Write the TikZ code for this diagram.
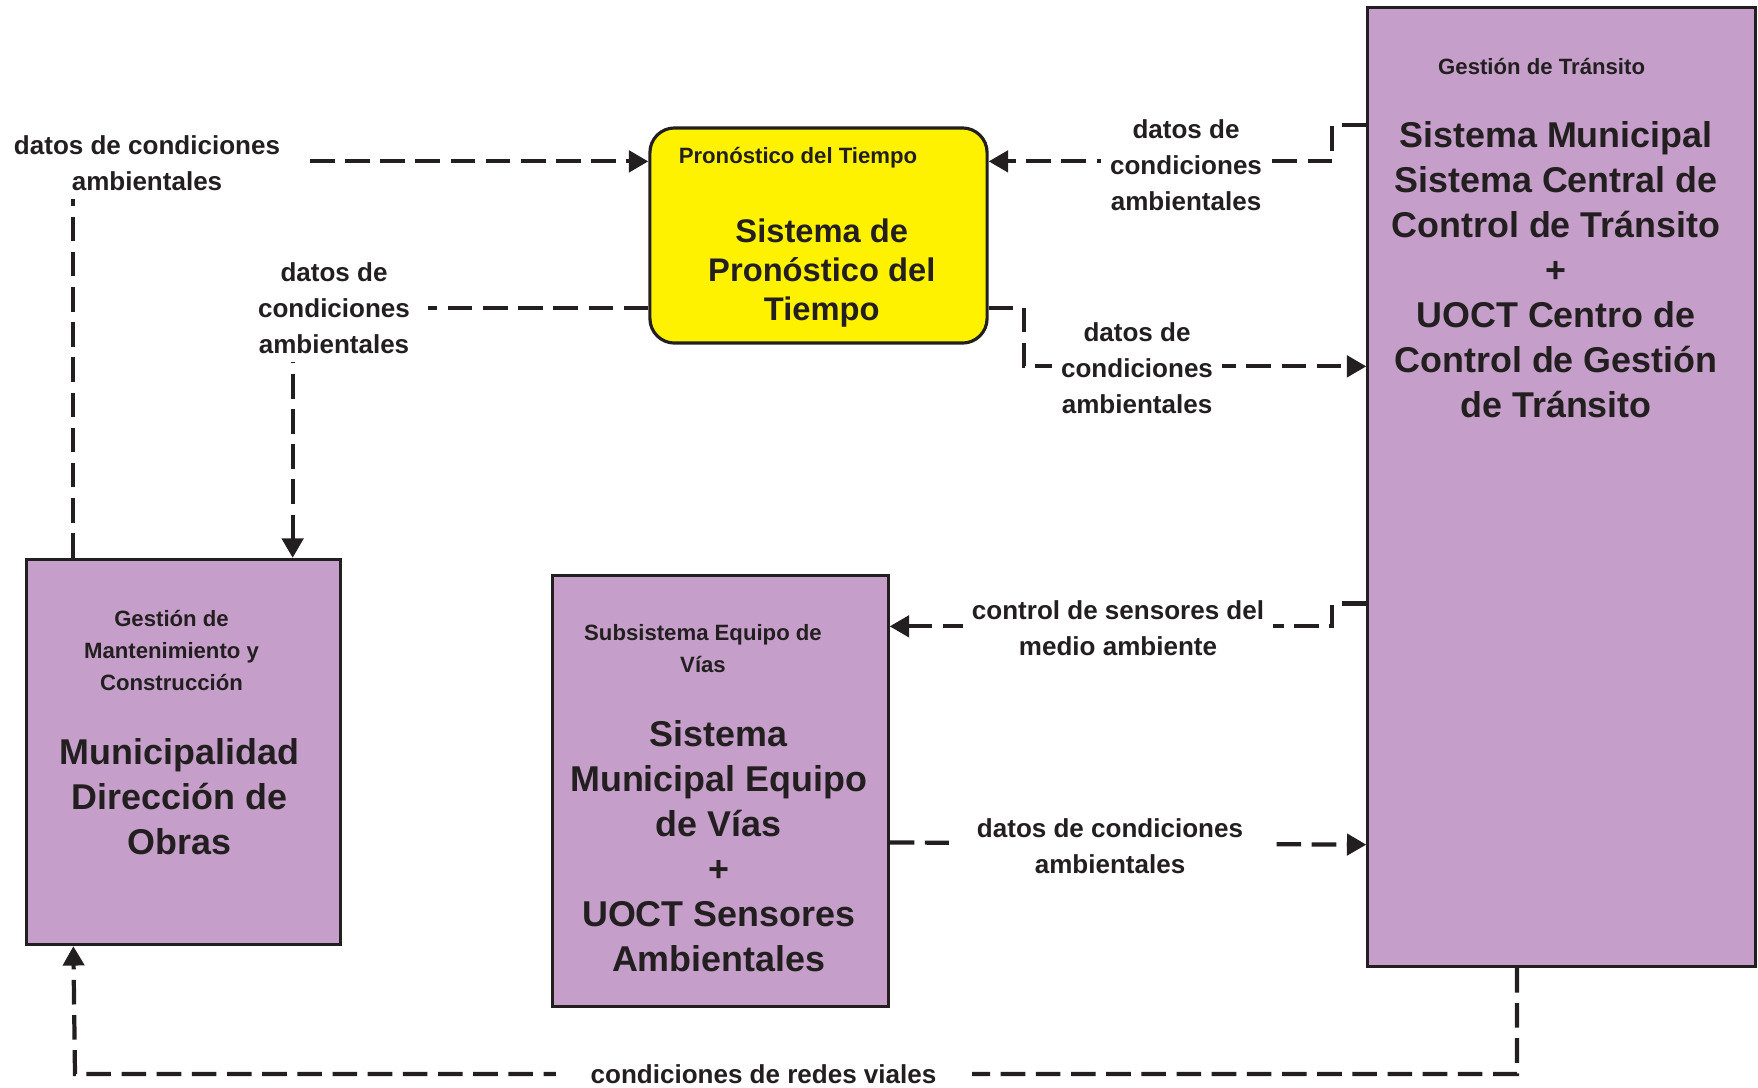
\documentclass[tikz,border=0pt]{standalone}
\usepackage{fontspec}
\setmainfont{Liberation Sans}
\usetikzlibrary{arrows.meta}
\definecolor{ink}{HTML}{231F20}
\definecolor{lila}{HTML}{C59FC9}
\definecolor{amarillo}{HTML}{FFF200}

\begin{document}
\begin{tikzpicture}[x=0.01cm,y=-0.01cm,
        sistema/.style={draw=ink, line width=0.9pt, fill=lila, inner sep=0pt},
        flujo/.style={draw=ink, line width=1.2pt, dash pattern=on 7pt off 3pt,
            -{Triangle[length=5.5pt,width=6pt]}},
        etiqueta/.style={fill=white, inner sep=2.5pt, align=center, text=ink,
            font=\fontsize{7.4}{10.2}\selectfont\bfseries},
        titulo/.style={align=center, text=ink, font=\fontsize{6.3}{9.1}\selectfont\bfseries},
        nombre/.style={align=center, text=ink, font=\fontsize{10.2}{12.8}\selectfont\bfseries}]
            \useasboundingbox (0,0) rectangle (1758,1087);

            % cajas
            \node[sistema, minimum width=3.87cm, minimum height=9.58cm] (transito) at (1561.5,487) {};
            \node[sistema, minimum width=3.13cm, minimum height=3.85cm] (obras) at (183.5,752) {};
            \node[sistema, minimum width=3.35cm, minimum height=4.30cm] (vias) at (720.5,791) {};
            \node[draw=ink, line width=0.9pt, fill=amarillo, rounded corners=7pt,
                minimum width=3.37cm, minimum height=2.15cm] (tiempo) at (818.5,235.5) {};

            \node[titulo] (transitoTit) at (1541.6,66) {Gestión de Tránsito};
            \node[nombre] (transitoNom) at (1556,270) {Sistema Municipal\\Sistema Central de\\Control de Tránsito\\+\\UOCT Centro de\\Control de Gestión\\de Tránsito};
            \node[titulo] (obrasTit) at (171.5,650) {Gestión de\\Mantenimiento y\\Construcción};
            \node[nombre] (obrasNom) at (179.4,797) {Municipalidad\\Dirección de\\Obras};
            \node[titulo] (viasTit) at (703,649) {Subsistema Equipo de\\Vías};
            \node[nombre] (viasNom) at (718.7,846.5) {Sistema\\Municipal Equipo\\de Vías\\+\\UOCT Sensores\\Ambientales};
            \node[titulo] (tiempoTit) at (798,158) {Pronóstico del Tiempo};
            \node[nombre, font=\fontsize{9.3}{11}\selectfont\bfseries] (tiempoNom) at (821.8,273) {Sistema de\\Pronóstico del\\Tiempo};

            % flujos
            \draw[flujo] ([xshift=0.48cm]obras.north west) |- ([yshift=-0.35cm]tiempo.north west);
            \draw[flujo] ([yshift=0.37cm]tiempo.south west) -| ([xshift=-0.49cm]obras.north east);
            \draw[flujo] ([yshift=-1.19cm]transito.north west) -- ++(-34,0) |- ([yshift=-0.35cm]tiempo.north east);
            \draw[flujo] ([yshift=0.37cm]tiempo.south east) -- ++(35,0) |- ([yshift=-3.6cm]transito.north west);
            \draw[flujo] ([yshift=-5.97cm]transito.north west) -- ++(-34,0) |- ([yshift=-0.52cm]vias.north east);
            \draw[flujo] ([yshift=-2.68cm]vias.north east) -- ([yshift=-8.38cm]transito.north west);
            \coordinate (esquina) at (75,1074);
            \draw[flujo] ([xshift=-0.445cm]transito.south) |- (esquina) -- ([xshift=0.48cm]obras.south west);

            % etiquetas
            \node[etiqueta, inner xsep=8pt] (e1) at (147,163) {datos de condiciones\\ambientales};
            \node[etiqueta, inner xsep=5pt] (e2) at (334,308) {datos de\\condiciones\\ambientales};
            \node[etiqueta] (e3) at (1186,165) {datos de\\condiciones\\ambientales};
            \node[etiqueta] (e4) at (1137,368) {datos de\\condiciones\\ambientales};
            \node[etiqueta] (e5) at (1118,628) {control de sensores del\\medio ambiente};
            \node[etiqueta, inner xsep=8pt] (e6) at (1110,846) {datos de condiciones\\ambientales};
            \node[etiqueta, inner xsep=10pt] (e7) at (763.5,1074) {condiciones de redes viales};
        \end{tikzpicture}
\end{document}
